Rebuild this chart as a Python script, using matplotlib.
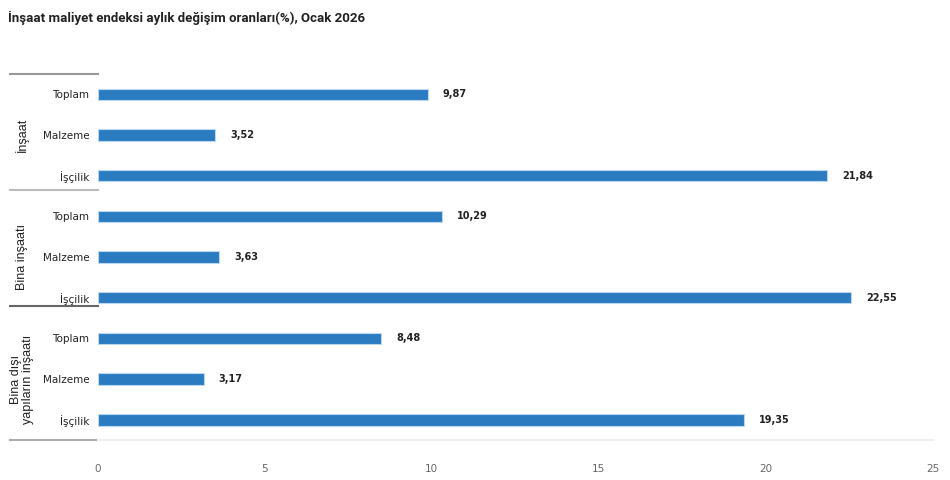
import matplotlib
matplotlib.use("Agg")
import matplotlib.pyplot as plt

BAR_BLUE = "#2b7bc1"
EDGE_BLUE = "#b9d8f0"
TEXT_DARK = "#222222"
TICK_GREY = "#666666"
NARROW = ["Liberation Sans Narrow", "DejaVu Sans"]

# data (ocak 2026, aylik degisim %)
groups = ["İnşaat", "Bina inşaatı", "Bina dışı\nyapıların inşaatı"]
items = ["Toplam", "Malzeme", "İşçilik"]
insaat = [9.87, 3.52, 21.84]
bina = [10.29, 3.63, 22.55]
bina_disi = [8.48, 3.17, 19.35]
x_ticks = [0, 5, 10, 15, 20, 25]

values = insaat + bina + bina_disi
labels = items * len(groups)
ypos = list(range(len(values)))

fig = plt.figure(figsize=(9.5, 4.8), dpi=100)
ax = fig.add_axes([0.103, 0.083, 0.879, 0.763])

ax.barh(ypos, values, height=0.28, color=BAR_BLUE, edgecolor=EDGE_BLUE, linewidth=0.8)
for y, v in zip(ypos, values):
    ax.text(v + 0.45, y, f"{v:.2f}".replace(".", ","), ha="left", va="center",
            fontsize=7, fontweight="bold", color=TEXT_DARK, family=NARROW)

ax.set_xlim(0, 25)
ax.set_ylim(len(values) - 0.5, -0.5)
ax.set_xticks(x_ticks)
ax.set_xticklabels([str(t) for t in x_ticks], family=NARROW, fontsize=7.5, color=TICK_GREY)
ax.set_yticks(ypos)
ax.set_yticklabels(labels, family=NARROW, fontsize=7.5, color=TEXT_DARK)
ax.tick_params(axis="both", length=0)
ax.tick_params(axis="x", pad=17)
ax.tick_params(axis="y", pad=6)
for side in ("top", "right", "left"):
    ax.spines[side].set_visible(False)
ax.spines["bottom"].set_color("#eeeeee")
ax.spines["bottom"].set_linewidth(1.5)

# group separators and group names on the left
trans = ax.get_yaxis_transform()
n = len(items)
seps = [-0.5, n - 0.5 - 0.14, 2 * n - 0.5 - 0.3, len(values) - 0.5]
sep_colors = ["#999999", "#bbbbbb", "#666666", "#aaaaaa"]
for s, c in zip(seps, sep_colors):
    ax.plot([-0.105, 0], [s, s], transform=trans, color=c, linewidth=1.5, clip_on=False)

for gi, g in enumerate(groups):
    center = gi * n + (n - 1) / 2
    ax.text(-0.091, center, g, transform=trans, rotation=90, ha="center", va="center",
            fontsize=9, color=TEXT_DARK, family=["Liberation Sans", "DejaVu Sans"],
            linespacing=1.05)

fig.text(0.008, 0.962, "İnşaat maliyet endeksi aylık değişim oranları(%), Ocak 2026",
         ha="left", va="center", fontsize=9.5, fontweight="bold", color=TEXT_DARK,
         family=["Roboto", "DejaVu Sans"])

fig.savefig("out.png", dpi=100, facecolor="white")
